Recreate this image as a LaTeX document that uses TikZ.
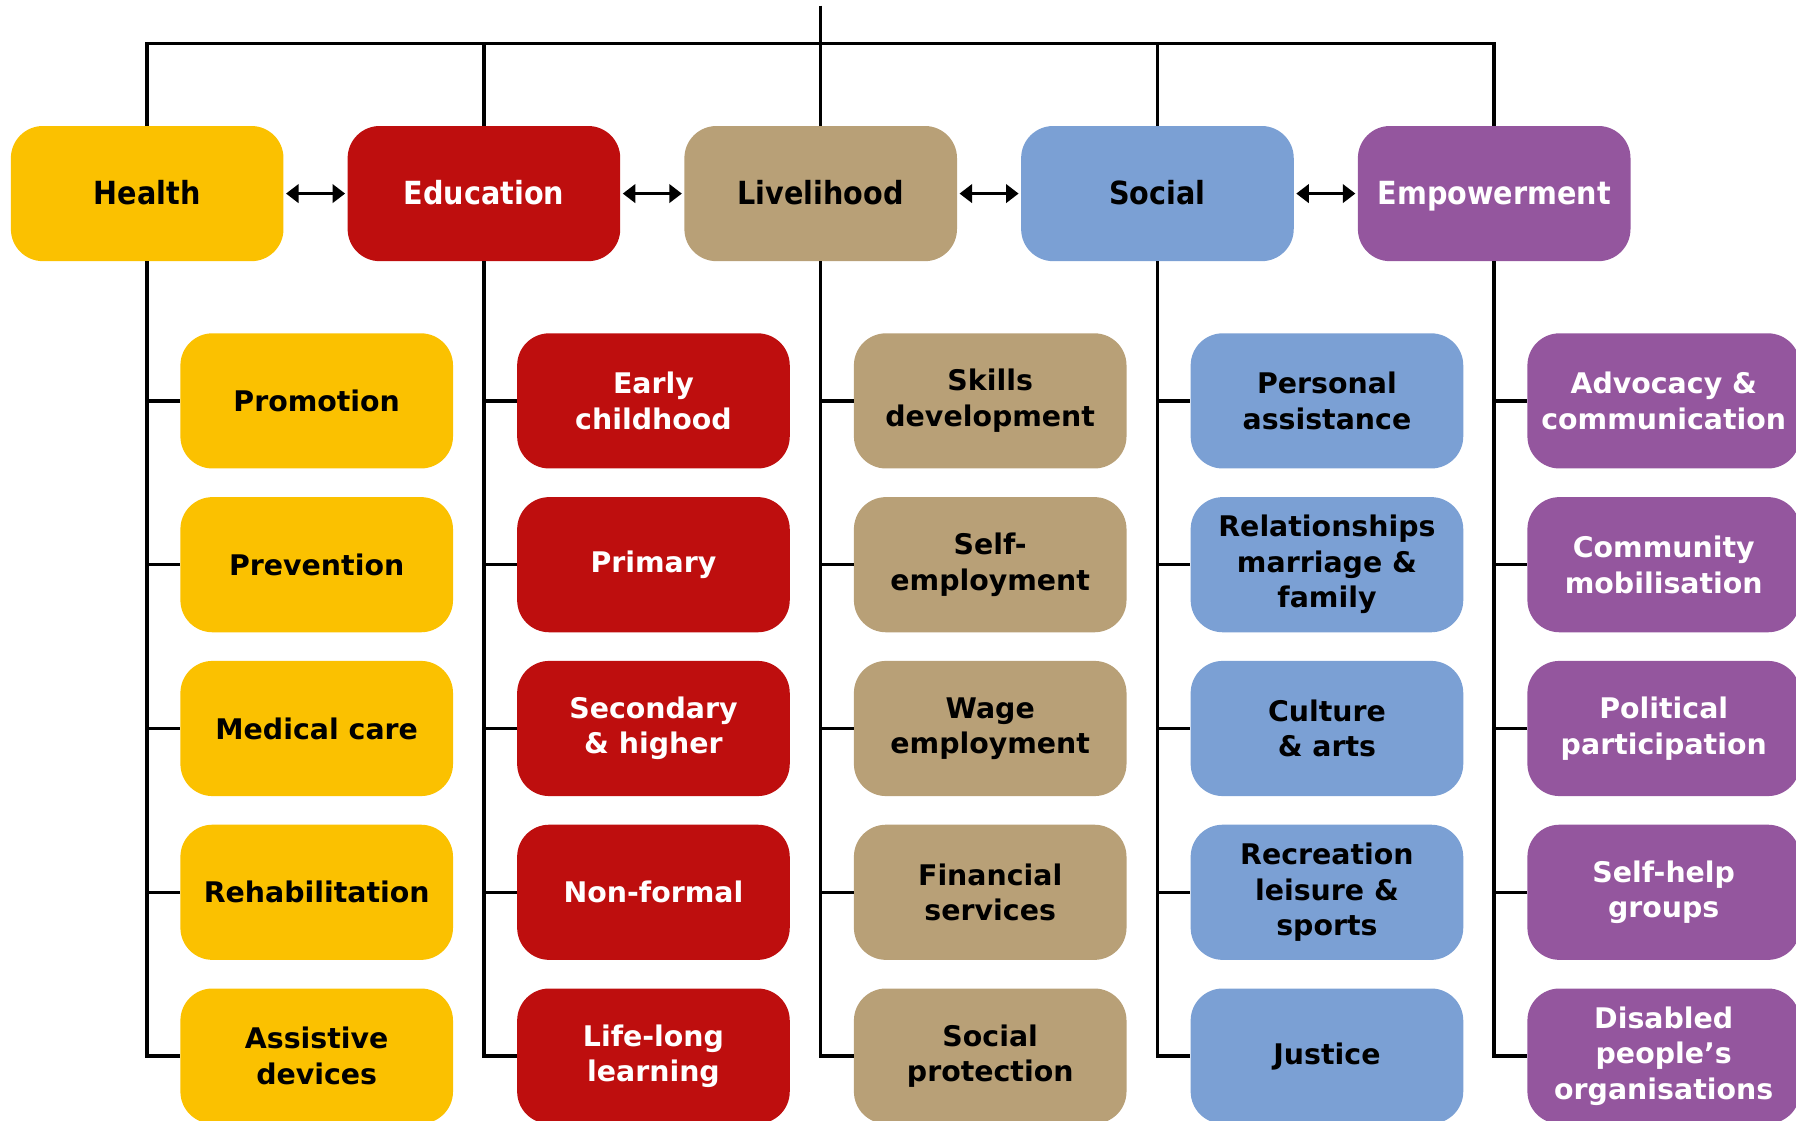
\documentclass[tikz,border=0pt]{standalone}
\usepackage{fontspec}
\setmainfont{DejaVu Sans}
\newfontfamily\condfont{DejaVu Sans Condensed}
\usetikzlibrary{arrows.meta}
\definecolor{cH}{RGB}{251,193,0}
\definecolor{cE}{RGB}{190,14,14}
\definecolor{cL}{RGB}{184,160,119}
\definecolor{cS}{RGB}{123,160,212}
\definecolor{cP}{RGB}{148,86,158}
\begin{document}
\begin{tikzpicture}[x=1pt,y=-1pt,
  box/.style={rounded corners=28pt, minimum width=238pt, minimum height=118pt, inner sep=0pt, align=center,
    font=\bfseries\fontsize{24.8}{31}\selectfont},
  head/.style={box, text height=19pt, text depth=0pt, font=\condfont\bfseries\fontsize{27.8}{32}\selectfont},
  yel/.style={fill=cH, text=black},
  red/.style={fill=cE, text=white},
  tan/.style={fill=cL, text=black},
  blu/.style={fill=cS, text=black},
  pur/.style={fill=cP, text=white},
  link/.style={line width=3pt, draw=black},
  biarrow/.style={line width=3pt, draw=black, {Triangle[length=11pt,width=16pt]}-{Triangle[length=11pt,width=16pt]}, shorten <=2pt, shorten >=2pt}]
\useasboundingbox (0,0) rectangle (1568,978);
% headers
\node[head,yel] (h0) at (128.5,169) {Health};
\node[head,red] (h1) at (422.5,169) {Education};
\node[head,tan] (h2) at (716.5,169) {Livelihood};
\node[head,blu] (h3) at (1010.5,169) {Social};
\node[head,pur] (h4) at (1304.5,169) {Empowerment};
% health
\node[box,yel] (s01) at (276.5,350) {Promotion};
\node[box,yel] (s02) at (276.5,493) {Prevention};
\node[box,yel] (s03) at (276.5,636) {Medical care};
\node[box,yel] (s04) at (276.5,779) {Rehabilitation};
\node[box,yel] (s05) at (276.5,922) {Assistive\\devices};
% education
\node[box,red] (s11) at (570.5,350) {Early\\childhood};
\node[box,red] (s12) at (570.5,493) {Primary};
\node[box,red] (s13) at (570.5,636) {Secondary\\\& higher};
\node[box,red] (s14) at (570.5,779) {Non-formal};
\node[box,red] (s15) at (570.5,922) {Life-long\\learning};
% livelihood
\node[box,tan] (s21) at (864.5,350) {Skills\\development};
\node[box,tan] (s22) at (864.5,493) {Self-\\employment};
\node[box,tan] (s23) at (864.5,636) {Wage\\employment};
\node[box,tan] (s24) at (864.5,779) {Financial\\services};
\node[box,tan] (s25) at (864.5,922) {Social\\protection};
% social
\node[box,blu] (s31) at (1158.5,350) {Personal\\assistance};
\node[box,blu] (s32) at (1158.5,493) {Relationships\\marriage \&\\family};
\node[box,blu] (s33) at (1158.5,636) {Culture\\\& arts};
\node[box,blu] (s34) at (1158.5,779) {Recreation\\leisure \&\\sports};
\node[box,blu] (s35) at (1158.5,922) {Justice};
% empowerment
\node[box,pur] (s41) at (1452.5,350) {Advocacy \&\\communication};
\node[box,pur] (s42) at (1452.5,493) {Community\\mobilisation};
\node[box,pur] (s43) at (1452.5,636) {Political\\participation};
\node[box,pur] (s44) at (1452.5,779) {Self-help\\groups};
\node[box,pur] (s45) at (1452.5,922) {Disabled\\people’s\\organisations};
% top connectors
\coordinate (top) at (716.5,5);
\coordinate (bar) at (716.5,38);
\draw[link] (top) -- (h2.north);
\draw[link] (h0.north) -- (h0.north |- bar) -- (h4.north |- bar) -- (h4.north);
\draw[link] (h1.north) -- (h1.north |- bar);
\draw[link] (h3.north) -- (h3.north |- bar);
% arrows
\draw[biarrow] (h0.east) -- (h1.west);
\draw[biarrow] (h1.east) -- (h2.west);
\draw[biarrow] (h2.east) -- (h3.west);
\draw[biarrow] (h3.east) -- (h4.west);
% branches
\foreach \c in {0,...,4}{
  \draw[link] (h\c.south) |- (s\c5.west);
  \foreach \r in {1,...,4}{
    \draw[link] (h\c.south |- s\c\r.west) -- (s\c\r.west);
  }
}
\end{tikzpicture}
\end{document}
